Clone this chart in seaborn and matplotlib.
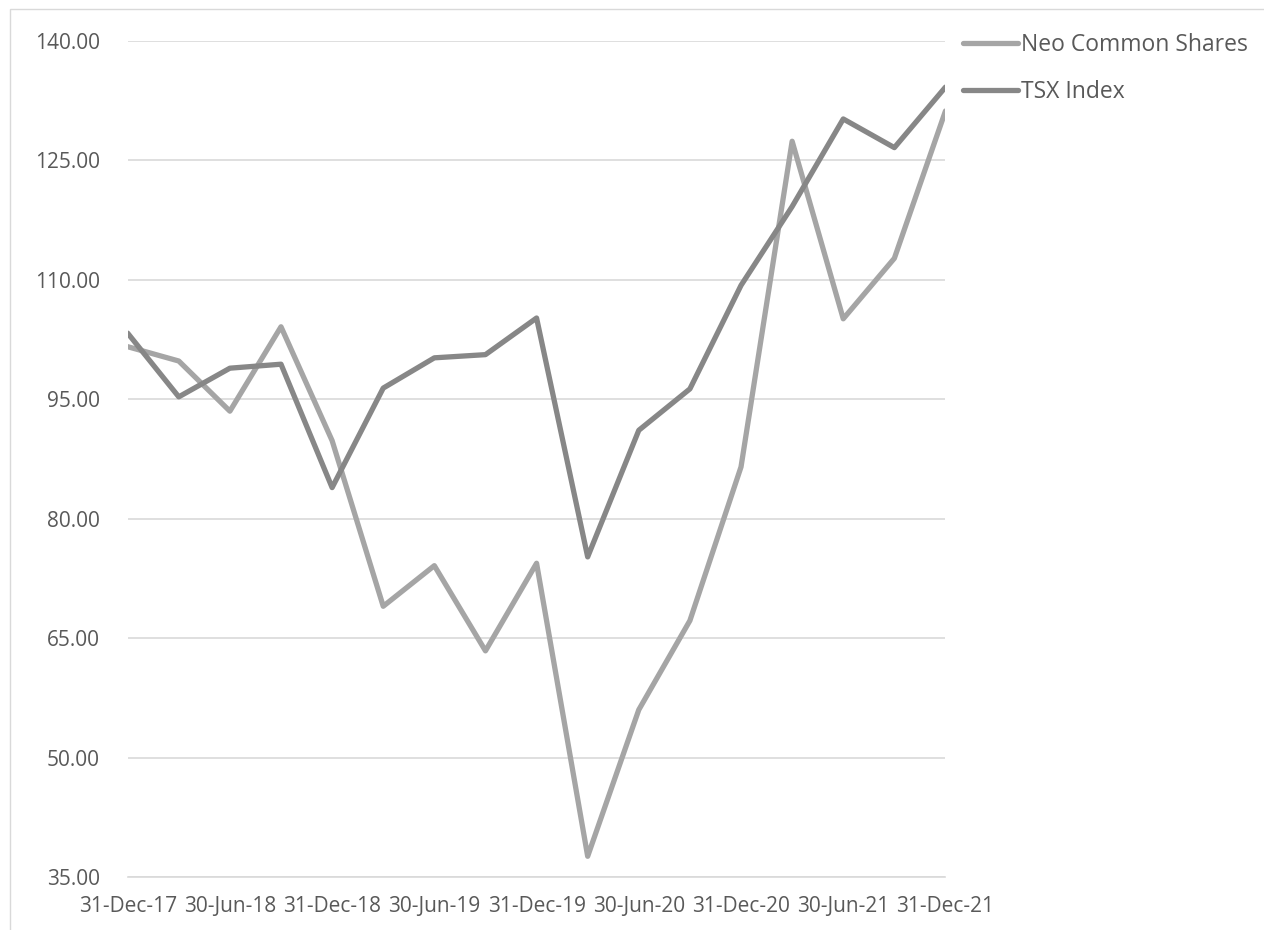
import pandas as pd
import seaborn as sns
import matplotlib.pyplot as plt
from matplotlib.patches import Rectangle

# quarter-end dates, 31-Dec-17 .. 31-Dec-21
quarters = ['31-Dec-17', '31-Mar-18', '30-Jun-18', '30-Sep-18', '31-Dec-18',
            '31-Mar-19', '30-Jun-19', '30-Sep-19', '31-Dec-19', '31-Mar-20',
            '30-Jun-20', '30-Sep-20', '31-Dec-20', '31-Mar-21', '30-Jun-21',
            '30-Sep-21', '31-Dec-21']
neo = [101.6, 99.8, 93.5, 104.1, 89.8, 69.0, 74.1, 63.4, 74.4, 37.6,
       56.0, 67.2, 86.5, 127.4, 105.1, 112.7, 131.2]
tsx = [103.3, 95.3, 98.9, 99.4, 83.9, 96.4, 100.2, 100.6, 105.2, 75.2,
       91.1, 96.3, 109.3, 119.2, 130.2, 126.6, 134.2]
y_ticks = [35, 50, 65, 80, 95, 110, 125, 140]

df = pd.DataFrame({'Quarter': range(len(quarters)),
                   'Neo Common Shares': neo, 'TSX Index': tsx})
long_df = df.melt(id_vars='Quarter', var_name='Series', value_name='Value')

sns.set_style('white')
plt.rcParams['font.family'] = ['Open Sans', 'DejaVu Sans']

fig = plt.figure(figsize=(12.64, 9.30), dpi=100)
ax = fig.add_axes([0.101, 0.057, 0.647, 0.899])

sns.lineplot(data=long_df, x='Quarter', y='Value', hue='Series',
             palette={'Neo Common Shares': '#A5A5A5', 'TSX Index': '#878787'},
             linewidth=3.8, ax=ax, legend=True)

ax.set_xlim(0, len(quarters) - 1)
ax.set_ylim(35, 140)
ax.set_yticks(y_ticks)
ax.set_yticklabels([f'{v:.2f}' for v in y_ticks])
ax.set_xticks(range(0, len(quarters), 2))
ax.set_xticklabels(quarters[::2])
ax.set_xlabel('')
ax.set_ylabel('')

ax.grid(axis='y', color='#D9D9D9', linewidth=1.2)
ax.set_axisbelow(True)
for s in ['top', 'right', 'left']:
    ax.spines[s].set_visible(False)
ax.spines['bottom'].set_color('#D9D9D9')
ax.spines['bottom'].set_linewidth(1.2)
ax.tick_params(axis='x', length=7, width=1.2, color='#D9D9D9',
               labelsize=15, labelcolor='#595959', pad=7)
ax.tick_params(axis='y', length=0, labelsize=15, labelcolor='#595959', pad=20)

leg = ax.legend(loc='upper left', bbox_to_anchor=(1.021, 1.009), frameon=False,
                fontsize=16.5, handlelength=2.4, handletextpad=0.15,
                labelspacing=1.0, borderaxespad=0, borderpad=0)
for t in leg.get_texts():
    t.set_color('#595959')

fig.patches.append(Rectangle((0.008, -0.01), 1.0, 1.0, transform=fig.transFigure,
                             fill=False, edgecolor='#D9D9D9', linewidth=1))

fig.savefig('out.png', dpi=100)
